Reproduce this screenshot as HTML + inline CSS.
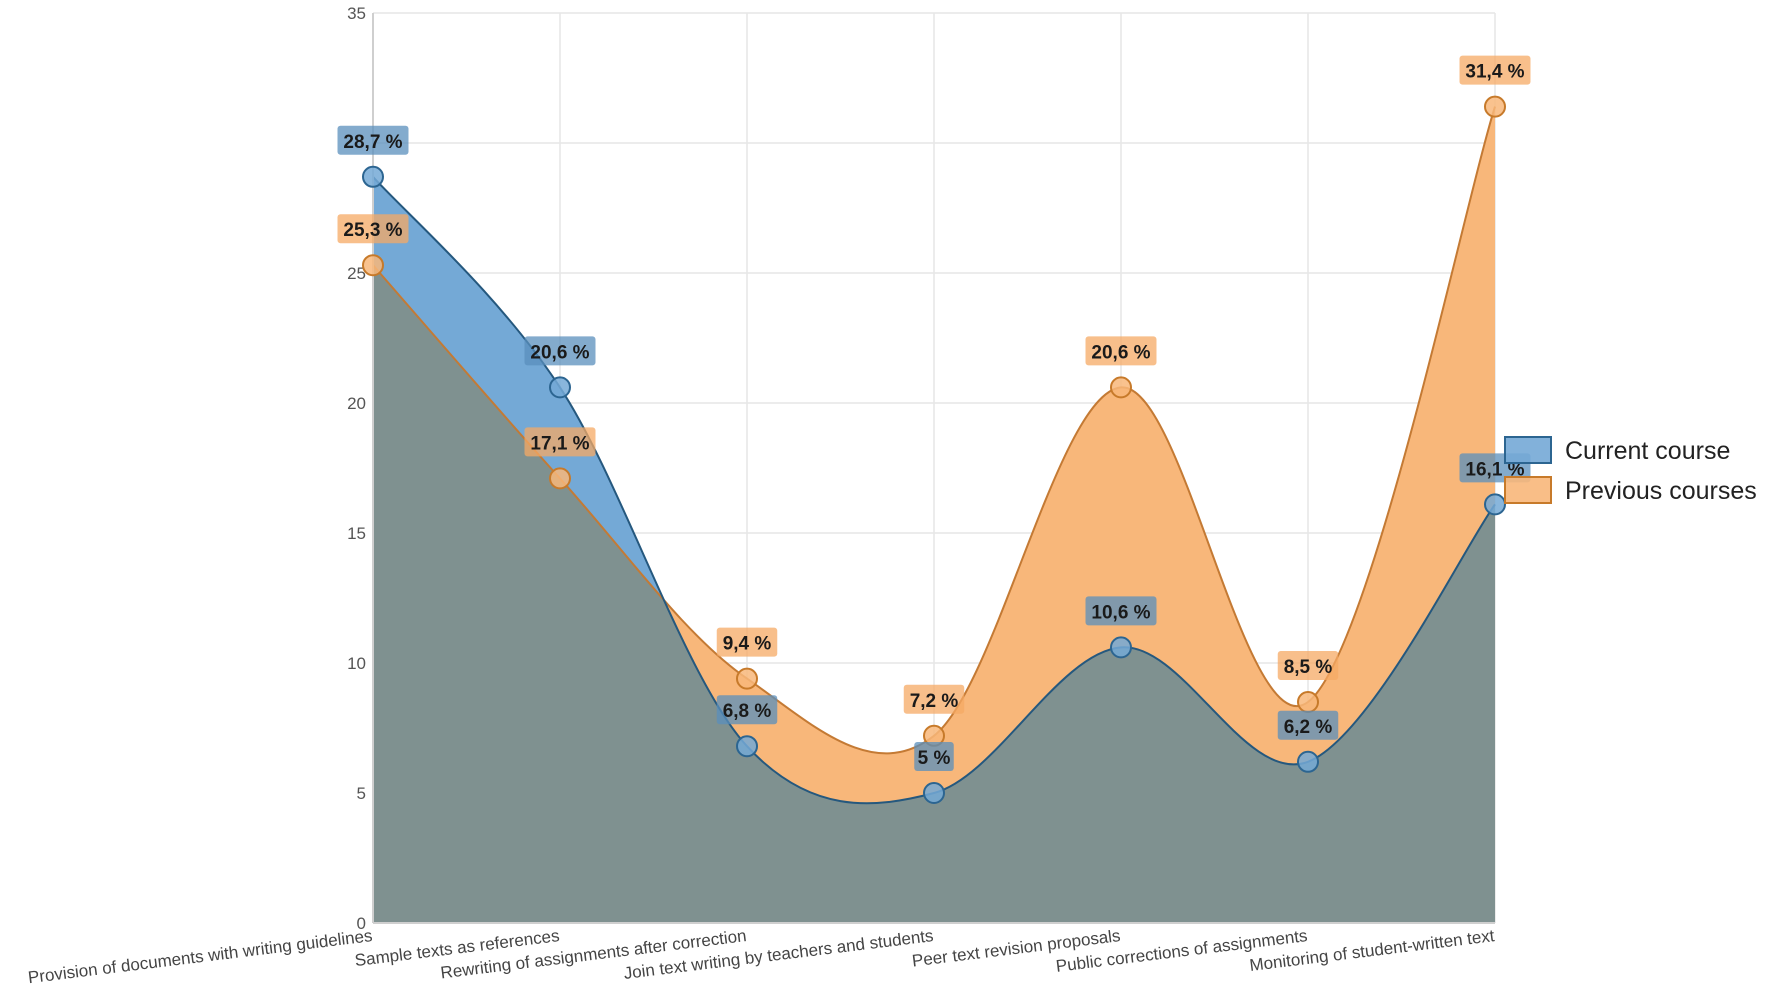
<!DOCTYPE html>
<html><head><meta charset="utf-8"><style>
html,body{margin:0;padding:0;background:#fff;}
svg{display:block;font-family:"Liberation Sans",sans-serif;}
</style></head><body>
<svg id="chart" width="1772" height="1001" viewBox="0 0 1772 1001" xmlns="http://www.w3.org/2000/svg">
<defs><clipPath id="prevClip"><path id="prevClipPath"/></clipPath></defs>
<g id="grid"></g>
<g id="areas"></g>
<g id="axes"></g>
<g id="marks"></g>
<g id="labels"></g>
<g>
  <g>
    <rect x="1505" y="437" width="46" height="26" fill="#74a9d6" fill-opacity="0.9" stroke="#2c6591" stroke-width="2"/>
    <text x="1565" y="459" font-size="25" fill="#222">Current course</text>
  </g>
  <g>
    <rect x="1505" y="477" width="46" height="26" fill="#f8b77a" fill-opacity="0.9" stroke="#c77a2a" stroke-width="2"/>
    <text x="1565" y="499" font-size="25" fill="#222">Previous courses</text>
  </g>
</g>
</svg>
<script>
const categories = ["Provision of documents with writing guidelines","Sample texts as references","Rewriting of assignments after correction","Join text writing by teachers and students","Peer text revision proposals","Public corrections of assignments","Monitoring of student-written text"];
const currentValues = [28.7,20.6,6.8,5,10.6,6.2,16.1];
const previousValues = [25.3,17.1,9.4,7.2,20.6,8.5,31.4];
const currentLabels = ["28,7 %","20,6 %","6,8 %","5 %","10,6 %","6,2 %","16,1 %"];
const previousLabels = ["25,3 %","17,1 %","9,4 %","7,2 %","20,6 %","8,5 %","31,4 %"];
const yTicks = [0,5,10,15,20,25,35];

const NS="http://www.w3.org/2000/svg";
const X0=373, X1=1495, Y0=923, YMAX=35, PXU=26;
const xs=i=>X0+i*(X1-X0)/(categories.length-1);
const ys=v=>Y0-v*PXU;
function mk(tag,attrs,parent){const e=document.createElementNS(NS,tag);for(const k in attrs)e.setAttribute(k,attrs[k]);parent.appendChild(e);return e;}
function curve(vals){
  const p=vals.map((v,i)=>[xs(i),ys(v)]);
  let d=`M${p[0][0]},${p[0][1]}`;
  for(let i=0;i<p.length-1;i++){
    const p0=p[i-1]||p[i],p1=p[i],p2=p[i+1],p3=p[i+2]||p[i+1];
    const c1=[p1[0]+(p2[0]-p0[0])/6,p1[1]+(p2[1]-p0[1])/6];
    const c2=[p2[0]-(p3[0]-p1[0])/6,p2[1]-(p3[1]-p1[1])/6];
    d+=` C${c1[0]},${c1[1]} ${c2[0]},${c2[1]} ${p2[0]},${p2[1]}`;
  }
  return d;
}
const area=vals=>curve(vals)+` L${xs(vals.length-1)},${Y0} L${xs(0)},${Y0} Z`;
const grid=document.getElementById('grid');
yTicks.concat([30]).forEach(t=>{
  const l=mk('line',{x1:X0,x2:X1,y1:ys(t),y2:ys(t),stroke:'#e6e6e6','stroke-width':1.5},grid);
  
  
});
categories.forEach((c,i)=>{
  const l=mk('line',{x1:xs(i),x2:xs(i),y1:ys(YMAX),y2:Y0,stroke:'#e6e6e6','stroke-width':1.5},grid);
  
  
});
const areas=document.getElementById('areas');
const pa=mk('path',{d:area(previousValues),fill:'#f8b77a'},areas);


const ca=mk('path',{d:area(currentValues),fill:'#74a9d6'},areas);


document.getElementById('prevClipPath').setAttribute('d',area(previousValues));
const ov=mk('path',{d:area(currentValues),fill:'#7f9190','clip-path':'url(#prevClip)'},areas);


const pl=mk('path',{d:curve(previousValues),fill:'none',stroke:'#c47a34','stroke-width':2},areas);


const cl=mk('path',{d:curve(currentValues),fill:'none',stroke:'#25587e','stroke-width':2},areas);


const axes=document.getElementById('axes');
mk('line',{x1:X0,x2:X0,y1:ys(YMAX),y2:Y0,stroke:'#cfcfcf','stroke-width':2},axes);
mk('line',{x1:X0,x2:X1,y1:Y0,y2:Y0,stroke:'#cfcfcf','stroke-width':2},axes);
yTicks.forEach(t=>{
  const tx=mk('text',{x:X0-7,y:ys(t)+6,'text-anchor':'end','font-size':17,fill:'#555'},axes);
  tx.textContent=t;
  
  
});
categories.forEach((c,i)=>{
  const tx=mk('text',{x:xs(i),y:Y0+18,'text-anchor':'end','font-size':17,fill:'#444',transform:`rotate(-7 ${xs(i)} ${Y0+18})`},axes);
  tx.textContent=c;
  
  
});
const marks=document.getElementById('marks'), labels=document.getElementById('labels');
function series(vals,labs,fill,stroke,boxFill,name){
  vals.forEach((v,i)=>{
    const c=mk('circle',{cx:xs(i),cy:ys(v),r:10,fill:fill,stroke:stroke,'stroke-width':2,'fill-opacity':0.85},marks);
    
    
    const w=labs[i].length*10.5+8, x=xs(i), y=ys(v)-22;
    const g=mk('g',{},labels);
    
    
    mk('rect',{x:x-w/2,y:y-29,width:w,height:29,rx:3,fill:boxFill,'fill-opacity':0.75},g);
    const t=mk('text',{x:x,y:y-7,'text-anchor':'middle','font-size':19,'font-weight':'bold',fill:'#1a1a1a'},g);
    t.textContent=labs[i];
  });
}
series(previousValues,previousLabels,'#f8b77a','#c77a2a','#f6a964','previous');
series(currentValues,currentLabels,'#74a9d6','#2c6591','#5a8fbc','current');
</script>
</body></html>
